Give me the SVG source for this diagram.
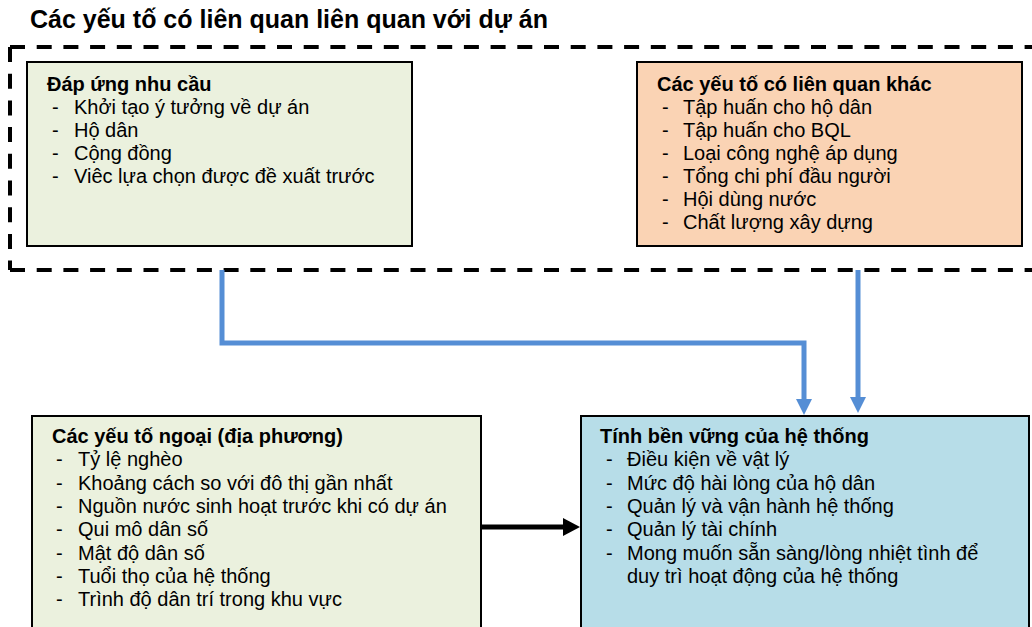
<svg xmlns="http://www.w3.org/2000/svg" width="1032" height="627" viewBox="0 0 1032 627">
<defs>
<style>
.t{font-family:"Liberation Sans",Arial,sans-serif;font-size:20px;fill:#000}
.h{font-family:"Liberation Sans",Arial,sans-serif;font-size:20px;font-weight:bold;fill:#000}
.title{font-family:"Liberation Sans",Arial,sans-serif;font-size:25px;font-weight:bold;fill:#000}
.box{stroke:#000;stroke-width:2}
.dash{fill:none;stroke:#000;stroke-width:4;stroke-dasharray:15 11.7}
.blue{fill:none;stroke:#558ED5;stroke-width:5}
.black{fill:none;stroke:#000;stroke-width:5}
</style>
<marker id="ab" markerUnits="userSpaceOnUse" markerWidth="16" markerHeight="16" refX="0" refY="8" orient="auto" overflow="visible">
<path d="M0,0 L16,8 L0,16 z" fill="#558ED5"/>
</marker>
<marker id="ak" markerUnits="userSpaceOnUse" markerWidth="17" markerHeight="18" refX="0" refY="9" orient="auto" overflow="visible">
<path d="M0,0 L17,9 L0,18 z" fill="#000"/>
</marker>
</defs>
<rect width="1032" height="627" fill="#fff"/>
<g id="title"><text class="title" x="30" y="28">Các yếu tố có liên quan liên quan với dự án</text></g>
<g id="project-group">
<path class="dash" d="M10,47 H1040"/>
<path class="dash" d="M10,47 V270"/>
<path class="dash" d="M10,270 H1040"/>
</g>
<g id="dap-ung">
<rect class="box" x="27" y="62" width="385" height="184" fill="#EBF1DE"/>
<text class="h" x="47" y="91">Đáp ứng nhu cầu</text>
<text class="t" y="114"><tspan x="52">-</tspan><tspan x="74">Khởi tạo ý tưởng về dự án</tspan></text>
<text class="t" y="137"><tspan x="52">-</tspan><tspan x="74">Hộ dân</tspan></text>
<text class="t" y="160"><tspan x="52">-</tspan><tspan x="74">Cộng đồng</tspan></text>
<text class="t" y="183"><tspan x="52">-</tspan><tspan x="74">Viêc lựa chọn được đề xuất trước</tspan></text>
</g>
<g id="khac">
<rect class="box" x="637" y="62" width="385" height="184" fill="#FAD3B4"/>
<text class="h" x="657" y="91">Các yếu tố có liên quan khác</text>
<text class="t" y="114"><tspan x="662">-</tspan><tspan x="683">Tập huấn cho hộ dân</tspan></text>
<text class="t" y="137"><tspan x="662">-</tspan><tspan x="683">Tập huấn cho BQL</tspan></text>
<text class="t" y="160"><tspan x="662">-</tspan><tspan x="683">Loại công nghệ áp dụng</tspan></text>
<text class="t" y="183"><tspan x="662">-</tspan><tspan x="683">Tổng chi phí đầu người</tspan></text>
<text class="t" y="206"><tspan x="662">-</tspan><tspan x="683">Hội dùng nước</tspan></text>
<text class="t" y="229"><tspan x="662">-</tspan><tspan x="683">Chất lượng xây dựng</tspan></text>
</g>
<g id="ngoai">
<rect class="box" x="32" y="416" width="449" height="230" fill="#EBF1DE"/>
<text class="h" x="52" y="443">Các yếu tố ngoại (địa phương)</text>
<text class="t" y="466.3"><tspan x="56">-</tspan><tspan x="78">Tỷ lệ nghèo</tspan></text>
<text class="t" y="489.6"><tspan x="56">-</tspan><tspan x="78">Khoảng cách so với đô thị gần nhất</tspan></text>
<text class="t" y="512.9"><tspan x="56">-</tspan><tspan x="78">Nguồn nước sinh hoạt trước khi có dự án</tspan></text>
<text class="t" y="536.2"><tspan x="56">-</tspan><tspan x="78">Qui mô dân số</tspan></text>
<text class="t" y="559.5"><tspan x="56">-</tspan><tspan x="78">Mật độ dân số</tspan></text>
<text class="t" y="582.8"><tspan x="56">-</tspan><tspan x="78">Tuổi thọ của hệ thống</tspan></text>
<text class="t" y="606.1"><tspan x="56">-</tspan><tspan x="78">Trình độ dân trí trong khu vực</tspan></text>
</g>
<g id="ben-vung">
<rect class="box" x="581" y="416" width="448" height="230" fill="#B7DDE8"/>
<text class="h" x="600" y="443">Tính bền vững của hệ thống</text>
<text class="t" y="466.3"><tspan x="606">-</tspan><tspan x="627">Điều kiện về vật lý</tspan></text>
<text class="t" y="489.6"><tspan x="606">-</tspan><tspan x="627">Mức độ hài lòng của hộ dân</tspan></text>
<text class="t" y="512.9"><tspan x="606">-</tspan><tspan x="627">Quản lý và vận hành hệ thống</tspan></text>
<text class="t" y="536.2"><tspan x="606">-</tspan><tspan x="627">Quản lý tài chính</tspan></text>
<text class="t" y="559.5"><tspan x="606">-</tspan><tspan x="627">Mong muốn sẵn sàng/lòng nhiệt tình để</tspan></text>
<text class="t" y="582.8"><tspan x="627">duy trì hoạt động của hệ thống</tspan></text>
</g>
<g id="connectors">
<path class="blue" d="M222,270 V343 H804 V399" marker-end="url(#ab)"/>
<path class="blue" d="M858,270 V397" marker-end="url(#ab)"/>
<path class="black" d="M481,527 H563" marker-end="url(#ak)"/>
</g>
</svg>
